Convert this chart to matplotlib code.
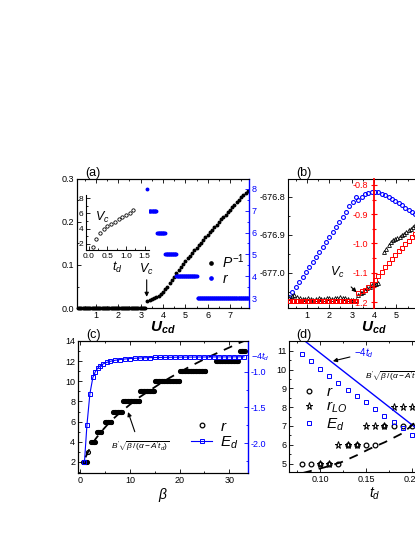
import numpy as np
import matplotlib
matplotlib.use("Agg")
import matplotlib.pyplot as plt
from matplotlib.ticker import MultipleLocator, FixedLocator

plt.rcParams['font.family'] = ['Liberation Sans', 'DejaVu Sans']
plt.rcParams['mathtext.fontset'] = 'custom'
plt.rcParams['mathtext.rm'] = 'Liberation Sans'
plt.rcParams['mathtext.it'] = 'Liberation Sans:italic'
plt.rcParams['mathtext.bf'] = 'Liberation Sans:bold'
plt.rcParams['mathtext.bfit'] = 'Liberation Sans:bold:italic'

# ---------------- panel (a) ----------------
u_zero = np.arange(0.2, 3.21, 0.05)          # P^-1 = 0 below Vc
u_p = [3.3, 3.4, 3.5, 3.6, 3.7, 3.8, 3.9, 4.0, 4.1, 4.2, 4.3, 4.4, 4.5, 4.6,
       4.7, 4.8, 4.9, 5.0, 5.1, 5.2, 5.3, 5.4, 5.5, 5.6, 5.7, 5.8, 5.9, 6.0,
       6.1, 6.2, 6.3, 6.4, 6.5, 6.6, 6.7, 6.8, 6.9, 7.0, 7.1, 7.2, 7.3, 7.4,
       7.5, 7.6, 7.7, 7.8]
p_inv = [0.016, 0.018, 0.020, 0.023, 0.026, 0.029, 0.033, 0.038, 0.044, 0.050,
         0.057, 0.065, 0.073, 0.081, 0.089, 0.096, 0.103, 0.110, 0.116, 0.122,
         0.128, 0.134, 0.140, 0.146, 0.152, 0.158, 0.164, 0.170, 0.176, 0.182,
         0.188, 0.194, 0.200, 0.206, 0.212, 0.217, 0.223, 0.229, 0.234, 0.240,
         0.246, 0.251, 0.257, 0.262, 0.268, 0.273]
r_a_values = [8, 7, 6, 5, 4, 3]
r_a_start = [3.30, 3.38, 3.75, 4.10, 4.60, 5.55]
r_a_end = [3.30, 3.70, 4.08, 4.58, 5.52, 7.85]

td_inset = [0.1, 0.2, 0.3, 0.4, 0.5, 0.6, 0.7, 0.8, 0.9, 1.0, 1.1, 1.2]
vc_inset = [1.6, 2.6, 3.4, 3.9, 4.3, 4.6, 4.9, 5.2, 5.5, 5.8, 6.1, 6.5]

# ---------------- panel (b) ----------------
u_b_circ = [0.20, 0.35, 0.50, 0.65, 0.80, 0.95, 1.10, 1.25, 1.40, 1.55, 1.70,
            1.85, 2.00, 2.15, 2.30, 2.45, 2.60, 2.75, 2.90, 3.05, 3.20,
            3.30, 3.45, 3.60, 3.75, 3.90, 4.05, 4.20, 4.35, 4.50, 4.65, 4.80,
            4.95, 5.10, 5.25, 5.40, 5.55, 5.70, 5.85, 6.00]
e_b_circ = [-677.064, -677.051, -677.038, -677.024, -677.011, -676.998,
            -676.985, -676.972, -676.958, -676.945, -676.932, -676.919,
            -676.906, -676.892, -676.879, -676.866, -676.853, -676.840,
            -676.826, -676.813, -676.800,
            -676.808, -676.800, -676.794, -676.790, -676.788, -676.787,
            -676.789, -676.792, -676.796, -676.801, -676.806, -676.812,
            -676.818, -676.823, -676.829, -676.835, -676.840, -676.846,
            -676.851]
u_b_tri = [0.20, 0.32, 0.44, 0.56, 0.68, 0.80, 0.92, 1.04, 1.16, 1.28, 1.40,
           1.52, 1.64, 1.76, 1.88, 2.00, 2.12, 2.24, 2.36, 2.48, 2.60, 2.72,
           2.84, 2.96, 3.08, 3.20,
           3.30, 3.40, 3.50, 3.60, 3.70, 3.80, 3.90, 4.00, 4.10, 4.20,
           4.45, 4.55, 4.65, 4.75, 4.85, 4.95, 5.05, 5.15, 5.25, 5.35, 5.45,
           5.55, 5.65, 5.75, 5.85]
e_b_tri = [-677.066, -677.061, -677.059, -677.062, -677.066, -677.068,
           -677.069, -677.067, -677.068, -677.070, -677.068, -677.067,
           -677.069, -677.068, -677.066, -677.067, -677.068, -677.066,
           -677.065, -677.064, -677.066, -677.067, -677.068, -677.070,
           -677.072, -677.070,
           -677.058, -677.054, -677.049, -677.045, -677.040, -677.036,
           -677.032, -677.030, -677.029, -677.027,
           -676.945, -676.938, -676.928, -676.920, -676.915, -676.912,
           -676.908, -676.905, -676.902, -676.898, -676.893, -676.888,
           -676.884, -676.879, -676.875]
u_b_flat = np.arange(0.2, 3.21, 0.06)         # red squares, flat part
red_flat = -1.196
u_b_sq = [3.30, 3.45, 3.60, 3.75, 3.90, 4.05, 4.20, 4.35, 4.50, 4.65, 4.80,
          4.95, 5.10, 5.25, 5.40, 5.55, 5.70, 5.85, 6.00]
red_b_sq = [-1.168, -1.163, -1.157, -1.149, -1.139, -1.126, -1.111, -1.096,
            -1.081, -1.067, -1.053, -1.040, -1.027, -1.014, -1.002, -0.990,
            -0.978, -0.966, -0.954]

# ---------------- panel (c) ----------------
r_c_values = [2, 3, 4, 5, 6, 7, 8, 9, 10, 11, 12, 13]
r_c_start = [0.6, 1.6, 2.2, 3.3, 4.9, 6.6, 8.6, 12.0, 15.0, 20.1, 27.3, 32.2]
r_c_end = [1.4, 1.6, 3.0, 4.3, 6.3, 8.5, 11.9, 14.9, 20.0, 25.2, 31.8, 33.2]
beta_ed = [0.8, 1.3, 1.9, 2.5, 3.0, 3.5, 4.0, 4.6, 5.3, 6.0, 7.0, 8.0, 9.0,
           10, 11, 12, 13, 14, 15, 16, 17, 18, 19, 20, 21, 22, 23, 24, 25,
           26, 27, 28, 29, 30, 31, 32, 33]
ed_c = [-2.27, -1.75, -1.31, -1.08, -1.00, -0.95, -0.915, -0.89, -0.87,
        -0.855, -0.84, -0.83, -0.822, -0.816, -0.812, -0.808, -0.805, -0.803,
        -0.801, -0.800, -0.799, -0.798, -0.797, -0.796, -0.796, -0.795,
        -0.795, -0.794, -0.794, -0.794, -0.793, -0.793, -0.793, -0.793,
        -0.792, -0.792, -0.792]
beta_fit = [1, 2, 3, 4, 5, 6, 7, 8, 9, 10, 12, 14, 16, 18, 20, 22, 24, 26,
            28, 30, 32, 34]
r_fit_c = [2.45, 3.45, 4.25, 4.9, 5.45, 6.0, 6.45, 6.9, 7.3, 7.7, 8.45, 9.1,
           9.75, 10.35, 10.9, 11.45, 11.95, 12.45, 12.9, 13.35, 13.8, 14.2]

# ---------------- panel (d) ----------------
td_d = [0.08, 0.09, 0.10, 0.11, 0.12, 0.13, 0.14, 0.15, 0.16, 0.17, 0.18,
        0.19, 0.20]
r_d = [5, 5, 5, 5, 5, 6, 6, 6, 6, 7, 7, 7, 7]
r_lo_d = [4, 4, 5, 5, 6, 6, 6, 7, 7, 7, 8, 8, 8]
ed_d = [10.82, 10.45, 10.04, 9.67, 9.30, 8.91, 8.60, 8.25, 7.90, 7.54, 7.19,
        6.88, 6.53]
td_line = [0.084, 0.253]
line_4td = [11.50, 5.03]
td_fit = [0.0815, 0.095, 0.1073, 0.1236, 0.140, 0.1543, 0.1707, 0.1888,
          0.1978, 0.21, 0.23]
r_fit_d = [4.5, 4.67, 4.83, 5.08, 5.44, 5.79, 6.14, 6.59, 6.94, 7.5, 8.5]


def steps(starts, ends, values, dx):
    xs, ys = [], []
    for s, e, v in zip(starts, ends, values):
        x = np.arange(s, e + 1e-9, dx) if e > s else np.array([s])
        xs.append(x)
        ys.append(np.full(len(x), v))
    return np.concatenate(xs), np.concatenate(ys)


def style(ax, right=True, size=6.5):
    ax.tick_params(which='both', direction='in', top=True, right=right,
                   labelsize=size, width=0.6, pad=2)
    ax.tick_params(which='major', length=3)
    ax.tick_params(which='minor', length=1.6)
    for sp in ax.spines.values():
        sp.set_linewidth(0.8)


W, H = 415, 537
fig = plt.figure(figsize=(W / 100, H / 100), dpi=100)


def box(l, t, w, h):
    return [l / W, 1 - (t + h) / H, w / W, h / H]


# ---- (a)
ax = fig.add_axes(box(77, 179, 172, 129))
ax.plot(u_zero, np.zeros(len(u_zero)), 'o', color='k', ms=1.8, clip_on=False)
hp, = ax.plot(u_p, p_inv, 'o', color='k', ms=1.8)
ax.set_xlim(0.15, 7.85)
ax.set_ylim(0, 0.3)
ax.set_yticks([0, 0.1, 0.2, 0.3], ['0.0', '0.1', '0.2', '0.3'])
ax.xaxis.set_major_locator(MultipleLocator(1))
ax.xaxis.set_minor_locator(MultipleLocator(0.5))
ax.yaxis.set_minor_locator(MultipleLocator(0.05))
style(ax, right=False)
ax.set_xlabel(r'$\mathbfit{U}_{\mathbfit{cd}}$', fontsize=11, labelpad=0)
ax.text(0.05, 1.02, '(a)', transform=ax.transAxes, fontsize=9)
ax.annotate(r'$V_c$', xy=(3.27, 0.026), xytext=(3.27, 0.072),
            ha='center', va='bottom', fontsize=9,
            arrowprops=dict(arrowstyle='-|>', color='k', lw=0.8,
                            mutation_scale=6, shrinkA=0, shrinkB=0))
axr = ax.twinx()
ua, ra = steps(r_a_start, r_a_end, r_a_values, 0.03)
hr, = axr.plot(ua, ra, 'o', color='blue', ms=1.8)
axr.set_ylim(2.55, 8.45)
axr.yaxis.set_major_locator(MultipleLocator(1))
axr.yaxis.set_minor_locator(MultipleLocator(0.5))
style(axr)
axr.tick_params(which='both', axis='y', colors='blue')
axr.spines['right'].set_color('blue')
axr.spines['right'].set_linewidth(1.0)
ax.spines['right'].set_visible(False)
axr.legend([hp, hr], [r'$P^{-1}$', r'$r$'], loc='center left',
           bbox_to_anchor=(0.72, 0.30), frameon=False, fontsize=10,
           handlelength=0.5, handletextpad=0.5, labelspacing=0.1,
           borderpad=0, markerscale=1.3)

ins = fig.add_axes(box(86, 195, 63, 55))
ins.plot(td_inset, vc_inset, 'o', mfc='none', mec='k', ms=2.4, mew=0.6)
ins.set_xlim(-0.08, 1.62)
ins.set_ylim(1.2, 8.4)
ins.set_xticks([0, 0.5, 1.0, 1.5], ['0.0', '0.5', '1.0', '1.5'])
ins.set_yticks([2, 4, 6, 8])
ins.xaxis.set_minor_locator(MultipleLocator(0.25))
ins.yaxis.set_minor_locator(MultipleLocator(1))
style(ins, right=False, size=6)
ins.tick_params(which='both', top=False)
ins.spines['top'].set_visible(False)
ins.spines['right'].set_visible(False)
ins.set_xlabel(r'$t_d$', fontsize=9, labelpad=0)
ins.text(0.15, 5.0, r'$V_c$', fontsize=9)

# ---- (b)
bx = fig.add_axes(box(288, 179, 172, 129))
bx.plot(u_b_circ, e_b_circ, 'o', mfc='none', mec='blue', ms=2.8, mew=0.8)
bx.plot(u_b_tri, e_b_tri, '^', mfc='none', mec='k', ms=2.8, mew=0.6)
bx.set_xlim(0.15, 7.85)
bx.set_ylim(-677.092, -676.754)
bx.set_yticks([-677.0, -676.9, -676.8], ['-677.0', '-676.9', '-676.8'])
bx.xaxis.set_major_locator(MultipleLocator(1))
bx.xaxis.set_minor_locator(MultipleLocator(0.5))
bx.yaxis.set_minor_locator(MultipleLocator(0.05))
style(bx)
bx.set_xlabel(r'$\mathbfit{U}_{\mathbfit{cd}}$', fontsize=11, labelpad=0)
bx.text(0.05, 1.02, '(b)', transform=bx.transAxes, fontsize=9)
bx.annotate(r'$V_c$', xy=(3.22, -677.051), xytext=(2.35, -677.0),
            ha='center', va='center', fontsize=9,
            arrowprops=dict(arrowstyle='-|>', color='k', lw=0.8,
                            mutation_scale=6, shrinkA=4, shrinkB=0))
bxr = bx.twinx()
bxr.plot(u_b_flat, np.full(len(u_b_flat), red_flat), 's', mfc='none',
         mec='red', ms=2.6, mew=0.7)
bxr.plot(u_b_sq, red_b_sq, 's', mfc='none', mec='red', ms=2.6, mew=0.7)
bxr.set_ylim(-1.22, -0.78)
bxr.set_yticks([-1.2, -1.1, -1.0, -0.9, -0.8],
               ['-1.2', '-1.1', '-1.0', '-0.9', '-0.8'])
bxr.yaxis.set_minor_locator(MultipleLocator(0.05))
bxr.spines['right'].set_visible(False)
bxr.spines['top'].set_visible(False)
bxr.spines['bottom'].set_visible(False)
bxr.spines['left'].set_visible(True)
bxr.spines['left'].set_position(('axes', (4 - 0.15) / 7.7))
bxr.spines['left'].set_color('red')
bxr.spines['left'].set_linewidth(1.3)
bxr.yaxis.tick_left()
bxr.tick_params(axis='y', which='both', direction='inout', colors='red',
                labelsize=6.5, width=0.8, pad=2)
bxr.tick_params(axis='y', which='major', length=5)
bxr.tick_params(axis='y', which='minor', length=3)

# ---- (c)
cx = fig.add_axes(box(78, 341, 170, 132))
bc, rc = steps(r_c_start, r_c_end, r_c_values, 0.15)
hrc, = cx.plot(bc, rc, 'o', mfc='none', mec='k', ms=2.8, mew=0.9)
cx.plot(beta_fit, r_fit_c, color='k', lw=1.3, dashes=(5, 4))
cx.set_xlim(-0.5, 33.8)
cx.set_ylim(0.9, 14.0)
cx.yaxis.set_major_locator(MultipleLocator(2))
cx.yaxis.set_minor_locator(MultipleLocator(1))
cx.xaxis.set_major_locator(MultipleLocator(10))
cx.xaxis.set_minor_locator(MultipleLocator(5))
style(cx, right=False)
cx.set_xlabel(r'$\beta$', fontsize=10, labelpad=1)
cx.text(0.05, 1.02, '(c)', transform=cx.transAxes, fontsize=9)
cx.annotate(r"$B'\sqrt{\beta\,/(\alpha-A't_d)}$", xy=(9.6, 6.95),
            xytext=(12.0, 3.5), ha='center', va='center', fontsize=6,
            arrowprops=dict(arrowstyle='-|>', color='k', lw=0.8,
                            mutation_scale=6, shrinkA=4, shrinkB=0))
cxr = cx.twinx()
hed, = cxr.plot(beta_ed, ed_c, '-s', color='blue', mfc='none', mec='blue',
                ms=2.6, mew=0.7, lw=0.8)
cxr.set_ylim(-2.42, -0.57)
cxr.set_yticks([-2.0, -1.5, -1.0, -0.76], ['-2.0', '-1.5', '-1.0', r'$-4t_d$'])
cxr.yaxis.set_minor_locator(FixedLocator([-2.25, -1.75, -1.25]))
style(cxr)
cxr.tick_params(which='both', axis='y', colors='blue')
cxr.spines['right'].set_color('blue')
cxr.spines['right'].set_linewidth(1.0)
cx.spines['right'].set_visible(False)
cxr.legend([hrc, hed], [r'$r$', r'$E_d$'], loc='center left',
           bbox_to_anchor=(0.62, 0.285), frameon=False, fontsize=11,
           handlelength=1.4, handletextpad=0.5, labelspacing=0.05,
           borderpad=0, markerscale=1.2)

# ---- (d)
dx = fig.add_axes(box(289, 341, 172, 131))
h1, = dx.plot(td_d, r_d, 'o', mfc='none', mec='k', ms=3.4, mew=0.9)
h2, = dx.plot(td_d, r_lo_d, '*', mfc='none', mec='k', ms=5.2, mew=0.7)
h3, = dx.plot(td_d, ed_d, 's', mfc='none', mec='blue', ms=3.2, mew=0.7)
dx.plot(td_line, line_4td, color='blue', lw=1.0)
dx.plot(td_fit, r_fit_d, color='k', lw=1.3, dashes=(5, 4))
dx.set_xlim(0.0663, 0.2533)
dx.set_ylim(4.55, 11.52)
dx.set_xticks([0.10, 0.15, 0.20], ['0.10', '0.15', '0.20'])
dx.xaxis.set_minor_locator(MultipleLocator(0.025))
dx.yaxis.set_major_locator(MultipleLocator(1))
dx.yaxis.set_minor_locator(MultipleLocator(0.5))
style(dx)
dx.set_xlabel(r'$t_d$', fontsize=10, labelpad=1)
dx.text(0.04, 1.02, '(d)', transform=dx.transAxes, fontsize=9)
dx.annotate(r'$-4t_d$', xy=(0.114, 10.45), xytext=(0.137, 10.85),
            ha='left', va='center', fontsize=7, color='blue',
            arrowprops=dict(arrowstyle='-|>', color='k', lw=0.8,
                            mutation_scale=6, shrinkA=1, shrinkB=0))
dx.text(0.149, 9.6, r"$B'\sqrt{\beta\,/(\alpha-A't_d)}$", fontsize=6,
        va='center')
dx.legend([h1, h2, h3], [r'$r$', r'$r_{LO}$', r'$E_d$'], loc='upper left',
          bbox_to_anchor=(0.03, 0.72), frameon=False, fontsize=11,
          handlelength=1.0, handletextpad=0.6, labelspacing=0.05,
          borderpad=0)

fig.savefig('out.png', dpi=100)
